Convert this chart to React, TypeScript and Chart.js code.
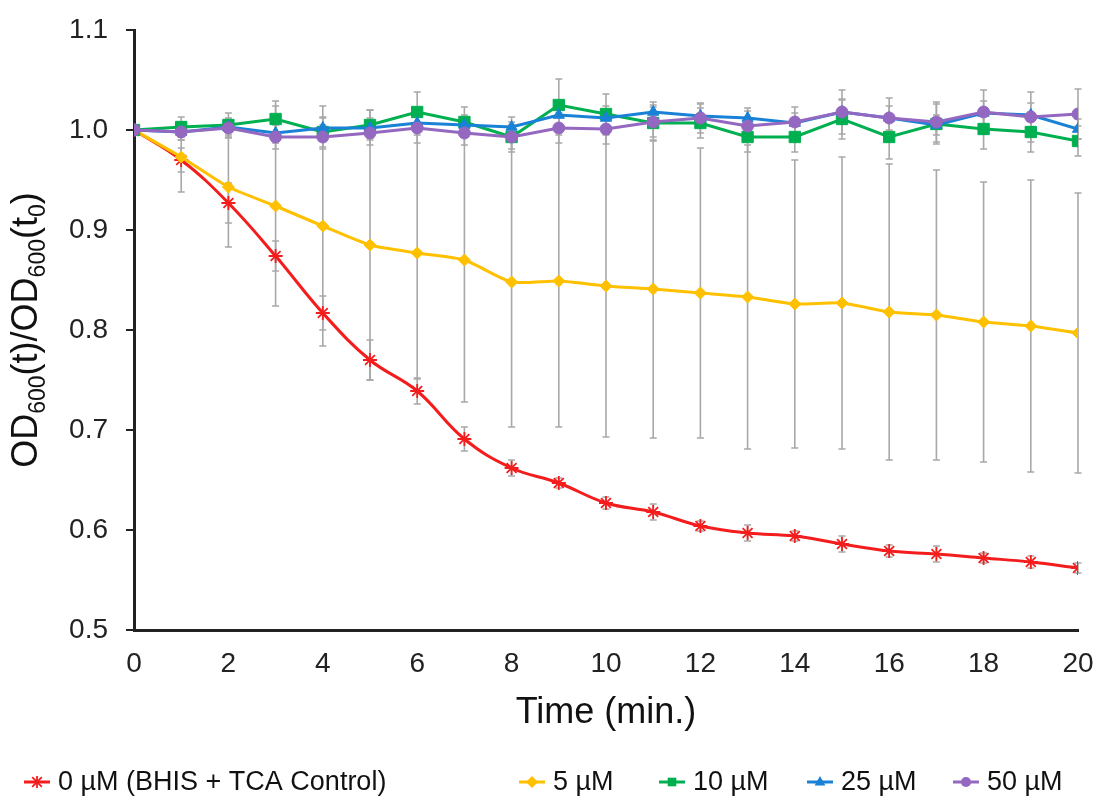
import React, { useEffect, useRef } from "react";
import { Chart, registerables } from "chart.js";

Chart.register(...registerables);

// ---- data ----
const times = [0, 1, 2, 3, 4, 5, 6, 7, 8, 9, 10, 11, 12, 13, 14, 15, 16, 17, 18, 19, 20];

const control0 = [1.0, 0.97, 0.927, 0.874, 0.817, 0.77, 0.739, 0.691, 0.662, 0.647, 0.627, 0.618, 0.604, 0.597, 0.594, 0.586, 0.579, 0.576, 0.572, 0.568, 0.562];
const control0Err = [0, 0.012, 0.02, 0.015, 0.017, 0.02, 0.013, 0.012, 0.008, 0.005, 0.006, 0.008, 0.005, 0.008, 0.005, 0.008, 0.006, 0.008, 0.005, 0.006, 0.005];

const conc5 = [1.0, 0.973, 0.943, 0.924, 0.904, 0.885, 0.877, 0.87, 0.848, 0.849, 0.844, 0.841, 0.837, 0.833, 0.826, 0.827, 0.818, 0.815, 0.808, 0.804, 0.797];
const conc5Err = [0, 0.035, 0.06, 0.1, 0.12, 0.135, 0.126, 0.142, 0.145, 0.146, 0.151, 0.149, 0.145, 0.152, 0.144, 0.146, 0.148, 0.145, 0.14, 0.146, 0.14];

const conc10 = [1.0, 1.003, 1.005, 1.011, 0.998, 1.005, 1.018, 1.008, 0.993, 1.025, 1.016, 1.007, 1.007, 0.993, 0.993, 1.011, 0.993, 1.006, 1.001, 0.998, 0.989];
const conc10Err = [0, 0.01, 0.012, 0.018, 0.015, 0.015, 0.02, 0.015, 0.015, 0.026, 0.02, 0.018, 0.015, 0.015, 0.015, 0.02, 0.022, 0.02, 0.02, 0.02, 0.015];

const conc25 = [1.0, 0.998, 1.003, 0.997, 1.002, 1.002, 1.007, 1.005, 1.003, 1.015, 1.012, 1.018, 1.014, 1.012, 1.007, 1.018, 1.012, 1.005, 1.017, 1.015, 1.001];
const conc25Err = [0, 0.008, 0.008, 0.01, 0.01, 0.01, 0.012, 0.01, 0.01, 0.012, 0.012, 0.01, 0.012, 0.01, 0.01, 0.012, 0.012, 0.01, 0.012, 0.012, 0.01];

const conc50 = [1.0, 0.998, 1.002, 0.993, 0.993, 0.997, 1.002, 0.997, 0.993, 1.002, 1.001, 1.008, 1.012, 1.004, 1.008, 1.018, 1.012, 1.008, 1.018, 1.013, 1.016];
const conc50Err = [0, 0.008, 0.01, 0.012, 0.012, 0.012, 0.015, 0.012, 0.012, 0.015, 0.015, 0.015, 0.015, 0.015, 0.015, 0.022, 0.02, 0.02, 0.022, 0.025, 0.025];

const seriesLabels = ["0 \u00B5M (BHIS + TCA Control)", "5 \u00B5M", "10 \u00B5M", "25 \u00B5M", "50 \u00B5M"];
const seriesColors = ["#F41D1D", "#FFC000", "#00B050", "#1A82D6", "#9468C0"];
const seriesMarkers = ["star", "rectRot", "rect", "triangle", "circle"];
const legendMarkerX = [37, 532, 672, 820, 966];

const xTicks = [0, 2, 4, 6, 8, 10, 12, 14, 16, 18, 20];
const yTicks = [0.5, 0.6, 0.7, 0.8, 0.9, 1.0, 1.1];

const FONT = "'Liberation Sans', Arial, Helvetica, sans-serif";

function drawMarker(ctx: CanvasRenderingContext2D, style: string, x: number, y: number, r: number, color: string) {
  ctx.save();
  ctx.fillStyle = color;
  ctx.strokeStyle = color;
  ctx.lineWidth = 1.8;
  ctx.beginPath();
  if (style === "star") {
    ctx.moveTo(x - r * 0.8, y - r * 0.8);
    ctx.lineTo(x + r * 0.8, y + r * 0.8);
    ctx.moveTo(x + r * 0.8, y - r * 0.8);
    ctx.lineTo(x - r * 0.8, y + r * 0.8);
    ctx.moveTo(x, y - r);
    ctx.lineTo(x, y + r);
    ctx.stroke();
  } else if (style === "rectRot") {
    ctx.moveTo(x - r, y);
    ctx.lineTo(x, y - r);
    ctx.lineTo(x + r, y);
    ctx.lineTo(x, y + r);
    ctx.closePath();
    ctx.fill();
  } else if (style === "rect") {
    const s = r * 0.72;
    ctx.rect(x - s, y - s, 2 * s, 2 * s);
    ctx.fill();
  } else if (style === "triangle") {
    ctx.moveTo(x, y - r);
    ctx.lineTo(x + r * 0.9, y + r * 0.6);
    ctx.lineTo(x - r * 0.9, y + r * 0.6);
    ctx.closePath();
    ctx.fill();
  } else {
    ctx.arc(x, y, r * 0.85, 0, Math.PI * 2);
    ctx.fill();
  }
  ctx.restore();
}

const errorBarPlugin = {
  id: "errorBars",
  beforeDatasetsDraw(chart: any) {
    const ctx = chart.ctx as CanvasRenderingContext2D;
    const xs = chart.scales.x;
    const ys = chart.scales.y;
    ctx.save();
    ctx.strokeStyle = "#A8A8A8";
    ctx.lineWidth = 1.6;
    chart.data.datasets.forEach((ds: any) => {
      const errs: number[] = ds.errors || [];
      ds.data.forEach((p: any, i: number) => {
        const e = errs[i] || 0;
        if (!e) return;
        const px = xs.getPixelForValue(p.x);
        const top = ys.getPixelForValue(p.y + e);
        const bot = ys.getPixelForValue(p.y - e);
        ctx.beginPath();
        ctx.moveTo(px, top);
        ctx.lineTo(px, bot);
        ctx.moveTo(px - 3.5, top);
        ctx.lineTo(px + 3.5, top);
        ctx.moveTo(px - 3.5, bot);
        ctx.lineTo(px + 3.5, bot);
        ctx.stroke();
      });
    });
    ctx.restore();
  },
};

const textPlugin = {
  id: "texts",
  afterDraw(chart: any) {
    const ctx = chart.ctx as CanvasRenderingContext2D;
    const area = chart.chartArea;
    ctx.save();
    ctx.fillStyle = "#111";
    // x title
    ctx.font = `36px ${FONT}`;
    ctx.textAlign = "center";
    ctx.textBaseline = "middle";
    ctx.fillText("Time (min.)", (area.left + area.right) / 2, 713);

    // y title with subscripts
    const parts: [string, boolean][] = [
      ["OD", false], ["600", true], ["(t)/OD", false], ["600", true], ["(t", false], ["0", true], [")", false],
    ];
    const mainF = `36px ${FONT}`;
    const subF = `23px ${FONT}`;
    let total = 0;
    parts.forEach(([t, s]) => {
      ctx.font = s ? subF : mainF;
      total += ctx.measureText(t).width;
    });
    ctx.translate(37, (area.top + area.bottom) / 2);
    ctx.rotate(-Math.PI / 2);
    ctx.textAlign = "left";
    ctx.textBaseline = "alphabetic";
    let cx = -total / 2;
    parts.forEach(([t, s]) => {
      ctx.font = s ? subF : mainF;
      ctx.fillText(t, cx, s ? 8 : 0);
      cx += ctx.measureText(t).width;
    });
    ctx.restore();

    // legend
    ctx.save();
    const lf = `27px ${FONT}`;
    const seg = 26;
    const ly = 782;
    ctx.textBaseline = "middle";
    ctx.textAlign = "left";
    seriesLabels.forEach((l, i) => {
      const mx = legendMarkerX[i];
      ctx.strokeStyle = seriesColors[i];
      ctx.lineWidth = 3;
      ctx.beginPath();
      ctx.moveTo(mx - seg / 2, ly);
      ctx.lineTo(mx + seg / 2, ly);
      ctx.stroke();
      drawMarker(ctx, seriesMarkers[i], mx, ly, 6, seriesColors[i]);
      ctx.fillStyle = "#111";
      ctx.font = lf;
      ctx.fillText(l, mx + seg / 2 + 8, ly + 1);
    });
    ctx.restore();
  },
};

function makeData(vals: number[]) {
  return times.map((t, i) => ({ x: t, y: vals[i] }));
}

export default function App() {
  const ref = useRef<HTMLCanvasElement | null>(null);
  useEffect(() => {
    if (!ref.current) return;
    const allVals = [control0, conc5, conc10, conc25, conc50];
    const allErrs = [control0Err, conc5Err, conc10Err, conc25Err, conc50Err];
    const tensions = [0.4, 0.2, 0, 0, 0];
    const radii = [7, 6, 8, 6.5, 6];
    const orders = [4, 3, 2, 1, 0];
    const chart = new Chart(ref.current, {
      type: "line",
      data: {
        datasets: allVals.map((v, i) => ({
          label: seriesLabels[i],
          data: makeData(v),
          errors: allErrs[i],
          borderColor: seriesColors[i],
          backgroundColor: seriesColors[i],
          pointBackgroundColor: seriesColors[i],
          pointBorderColor: seriesColors[i],
          pointStyle: seriesMarkers[i] as any,
          pointRadius: radii[i],
          pointBorderWidth: i === 0 ? 1.8 : 1,
          borderWidth: 3,
          tension: tensions[i],
          fill: false,
          order: orders[i],
        })) as any,
      },
      options: {
        animation: false,
        responsive: false,
        devicePixelRatio: 1,
        layout: { padding: { left: 0, right: 20, top: 30, bottom: 0 } },
        plugins: { legend: { display: false }, tooltip: { enabled: false }, title: { display: false } },
        scales: {
          x: {
            type: "linear",
            min: 0,
            max: 20,
            afterFit: (s: any) => { s.height = 172; s.paddingLeft = 0; s.paddingRight = 0; },
            afterBuildTicks: (s: any) => { s.ticks = xTicks.map((v) => ({ value: v })); },
            grid: { display: false, drawTicks: false },
            border: { display: true, color: "#222", width: 3 },
            ticks: { padding: 17, color: "#222", font: { size: 28, family: FONT } },
          },
          y: {
            min: 0.5,
            max: 1.1,
            afterFit: (s: any) => { s.width = 134; s.paddingTop = 0; s.paddingBottom = 0; },
            afterBuildTicks: (s: any) => { s.ticks = yTicks.map((v) => ({ value: v })); },
            grid: { drawOnChartArea: false, drawTicks: true, tickLength: 8, color: "#222", lineWidth: 2 },
            border: { display: true, color: "#222", width: 3 },
            ticks: { padding: 18, color: "#222", font: { size: 28, family: FONT }, callback: (v: any) => Number(v).toFixed(1) },
          },
        },
      } as any,
      plugins: [errorBarPlugin, textPlugin],
    });
    return () => chart.destroy();
  }, []);
  return (
    <div style={{ position: "absolute", left: 0, top: 0, width: 1098, height: 802, background: "#fff" }}>
      <canvas ref={ref} width={1098} height={802} style={{ display: "block", width: 1098, height: 802 }} />
    </div>
  );
}
